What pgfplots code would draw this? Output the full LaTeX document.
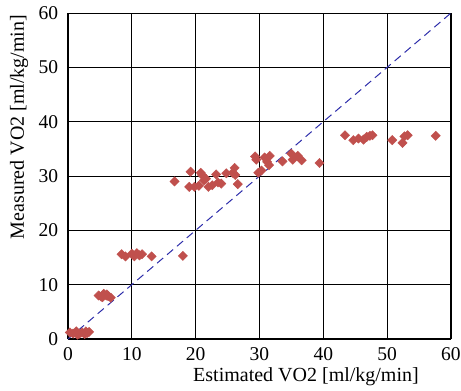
\documentclass[border=0pt]{standalone}
\usepackage{fontspec}
\setmainfont{Liberation Serif}
\usepackage{pgfplots}
\pgfplotsset{compat=1.18}
\definecolor{mred}{RGB}{192,80,77}
\definecolor{dblue}{RGB}{45,45,170}
\begin{document}
\fontsize{20}{23}\selectfont
\begin{tikzpicture}
\useasboundingbox (-68pt,-52pt) rectangle (393pt,339pt);
\begin{axis}[
  at={(0pt,0pt)}, anchor=south west,
  scale only axis, width=383pt, height=326pt,
  xmin=0, xmax=60, ymin=0, ymax=60,
  xtick={0,10,...,60}, ytick={0,10,...,60},
  grid=major, major grid style={black, line width=0.9pt},
  major tick length=0pt,
  axis line style={black, line width=1pt},
  /pgf/number format/assume math mode=true,
  tick label style={font=\fontsize{19.5}{22}\selectfont},
  xticklabel style={yshift=-2pt},
  yticklabel style={xshift=-3pt},
  clip=false,
]
\addplot[dblue, line width=1pt, dash pattern=on 8pt off 5pt] coordinates {(0,0) (60,60)};
\addplot[only marks, mark=square*, mark size=3.3pt, mark options={rotate=45, fill=mred, draw=mred}] coordinates {
(0.3,1.2) (0.8,1.0) (1.3,1.4) (1.5,0.8) (1.8,1.0) (2.2,1.2) (2.6,0.9) (2.8,1.4) (3.0,1.1) (3.3,1.3)
(4.8,8.0) (5.2,7.8) (5.4,7.7) (5.6,8.3) (6.0,8.0) (6.1,8.2) (6.3,7.9) (6.7,7.6)
(8.4,15.6) (9.0,15.2) (10.0,15.7) (10.4,15.2) (10.8,15.8) (11.2,15.4) (11.6,15.6) (13.1,15.2) (18.0,15.3)
(16.7,29.0) (19.2,30.8) (19.0,28.0) (19.8,28.0) (20.5,28.2) (20.8,30.6) (21.0,30.2) (21.3,29.2) (21.6,29.5)
(22.0,28.0) (22.6,28.3) (23.2,30.3) (23.5,28.8) (24.0,28.6) (24.8,30.5) (25.8,30.6) (26.1,31.5) (26.2,30.2) (26.6,28.5)
(29.3,33.6) (29.5,33.0) (29.8,30.6) (30.3,31.0) (30.8,33.4) (31.2,32.6) (31.5,32.0) (31.6,33.7)
(33.6,32.7) (35.0,34.1) (35.2,33.0) (36.0,33.7) (36.6,32.9) (39.4,32.4)
(43.4,37.5) (44.7,36.6) (45.5,36.9) (46.3,36.7) (46.8,37.2) (47.3,37.4) (47.7,37.5)
(50.8,36.6) (52.4,36.1) (52.7,37.3) (53.2,37.5) (57.6,37.4)
};
\end{axis}
\node at (238pt,-38pt) {Estimated VO2 [ml/kg/min]};
\node[rotate=90] at (-49pt,212pt) {Measured VO2 [ml/kg/min]};
\end{tikzpicture}
\end{document}
